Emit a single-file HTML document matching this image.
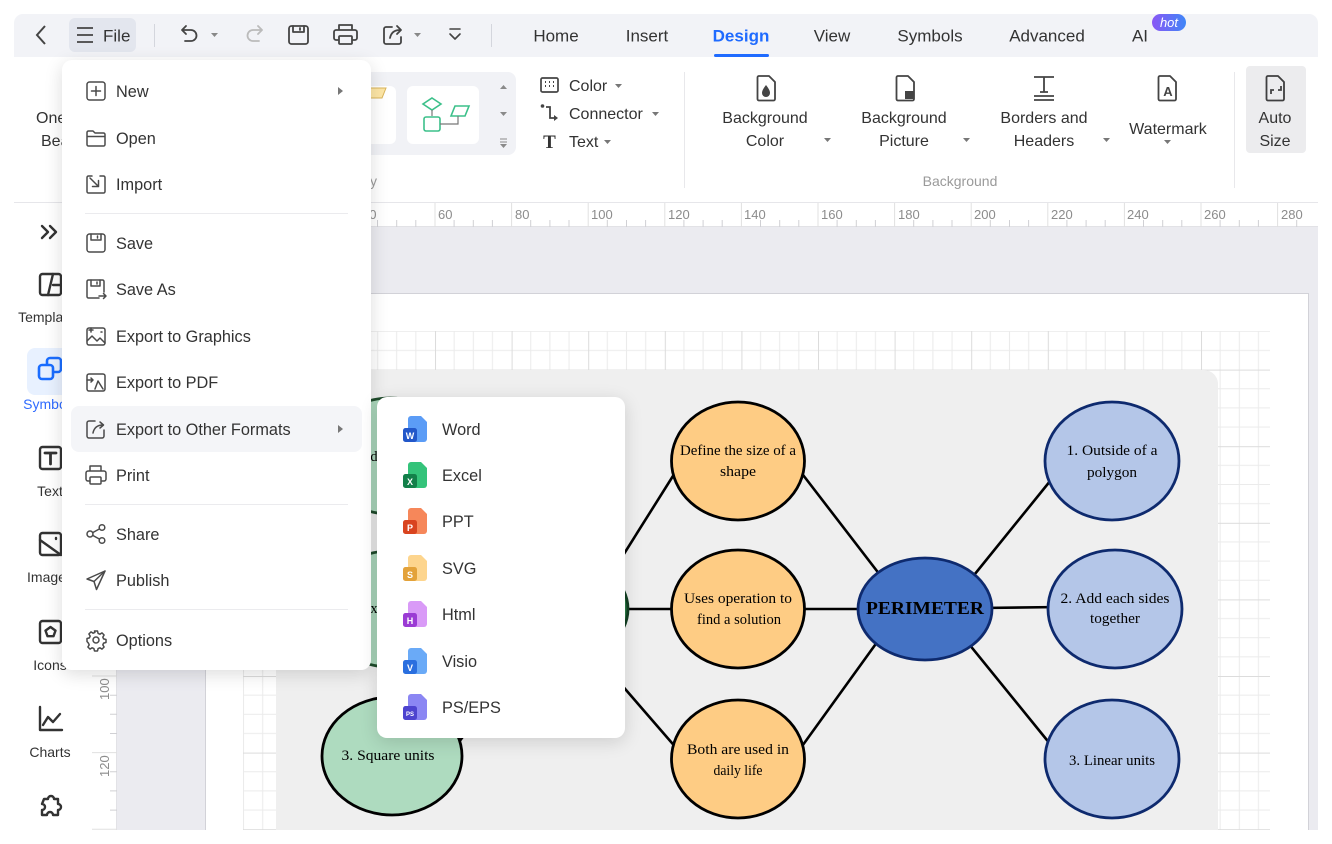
<!DOCTYPE html>
<html><head><meta charset="utf-8">
<style>
*{box-sizing:border-box;margin:0;padding:0}
body{width:1332px;height:844px;overflow:hidden;background:#fff;position:relative;font-family:"Liberation Sans",sans-serif;color:#333}
.a{position:absolute}
svg{display:block}
</style></head><body>

<!-- CANVAS -->
<svg class="a" style="left:0;top:0" width="1332" height="844">
<defs>
<pattern id="g" x="205.2" y="293" width="76.6" height="76.6" patternUnits="userSpaceOnUse">
<rect width="76.6" height="76.6" fill="#fff"/>
<path d="M19.15 0V76.6M38.3 0V76.6M57.45 0V76.6M0 19.15H76.6M0 38.3H76.6M0 57.45H76.6" stroke="#ebebeb" stroke-width="1"/>
<path d="M0.5 0V76.6M0 0.5H76.6" stroke="#dcdcdc" stroke-width="1"/>
</pattern>
</defs>
<rect x="117" y="227" width="1201" height="603" fill="#ebebf0"/>
<rect x="205" y="293" width="1104" height="537" fill="#fff"/>
<path d="M205.5 830V293.5H1308.5V830" fill="none" stroke="#d2d2d8"/>
<rect x="243" y="331" width="1027" height="499" fill="url(#g)"/>
<!-- rulers -->
<rect x="92" y="203" width="1226" height="24" fill="#fff"/>
<line x1="92" y1="226.5" x2="1318" y2="226.5" stroke="#e2e2e6"/>
<rect x="92" y="227" width="25" height="603" fill="#fff"/>
<line x1="116.5" y1="227" x2="116.5" y2="830" stroke="#e2e2e6"/>
<g stroke="#e0e0e0" stroke-width="1">
<path d="M128.6 203V227M205.2 203V227M281.8 203V227M358.4 203V227M435 203V227M511.6 203V227M588.2 203V227M664.8 203V227M741.4 203V227M818 203V227M894.6 203V227M971.2 203V227M1047.8 203V227M1124.4 203V227M1201 203V227M1277.6 203V227"/>
</g>
<g stroke="#d0d0d4" stroke-width="1">
<path d="M147.7 220V227M166.9 220V227M186 220V227M224.3 220V227M243.5 220V227M262.6 220V227M300.9 220V227M320.1 220V227M339.2 220V227M377.5 220V227M396.7 220V227M415.8 220V227M454.1 220V227M473.3 220V227M492.4 220V227M530.7 220V227M549.9 220V227M569 220V227M607.3 220V227M626.5 220V227M645.6 220V227M683.9 220V227M703.1 220V227M722.2 220V227M760.5 220V227M779.7 220V227M798.8 220V227M837.1 220V227M856.3 220V227M875.4 220V227M913.7 220V227M932.9 220V227M952 220V227M990.3 220V227M1009.5 220V227M1028.6 220V227M1066.9 220V227M1086.1 220V227M1105.2 220V227M1143.5 220V227M1162.7 220V227M1181.8 220V227M1220.1 220V227M1239.3 220V227M1258.4 220V227M1296.7 220V227"/>
<path d="M92 676H117M92 752.6H117M92 829.2H117" stroke="#e0e0e0"/>
<path d="M110 695.2H117M110 714.3H117M110 733.5H117M110 771.8H117M110 790.9H117M110 810.1H117"/>
</g>
<g font-family="Liberation Sans, sans-serif" font-size="13" fill="#8c8c8c">
<text x="362" y="219">40</text>
<text x="438" y="219">60</text>
<text x="515" y="219">80</text>
<text x="591" y="219">100</text>
<text x="668" y="219">120</text>
<text x="744" y="219">140</text>
<text x="821" y="219">160</text>
<text x="898" y="219">180</text>
<text x="974" y="219">200</text>
<text x="1051" y="219">220</text>
<text x="1127" y="219">240</text>
<text x="1204" y="219">260</text>
<text x="1281" y="219">280</text>
<text transform="translate(109,700) rotate(-90)">100</text>
<text transform="translate(109,777) rotate(-90)">120</text>
</g>

<!-- DIAGRAM -->
<rect x="276" y="370" width="942" height="480" rx="14" fill="#efefef"/>
<g stroke="#000" stroke-width="2.6" stroke-linecap="round" fill="none">
<line x1="800" y1="471" x2="890" y2="588"/>
<line x1="800" y1="609" x2="870" y2="609"/>
<line x1="800" y1="749" x2="888" y2="627"/>
<line x1="962" y1="590" x2="1055" y2="475"/>
<line x1="980" y1="608" x2="1060" y2="607"/>
<line x1="960" y1="633" x2="1055" y2="750"/>
<line x1="678" y1="468" x2="600" y2="592"/>
<line x1="600" y1="609" x2="678" y2="609"/>
<line x1="678" y1="750" x2="600" y2="660"/>
<line x1="440" y1="768" x2="530" y2="645"/>
</g>
<g stroke-width="2.8">
<ellipse cx="390" cy="456" rx="68" ry="58" fill="#aedbbf" stroke="#1f4d2c"/>
<ellipse cx="390" cy="609" rx="68" ry="58" fill="#aedbbf" stroke="#1f4d2c"/>
<ellipse cx="562" cy="609" rx="66" ry="52" fill="#2b7a46" stroke="#123f22"/>
<ellipse cx="392" cy="756" rx="70" ry="59" fill="#aedbbf" stroke="#000"/>
<ellipse cx="738" cy="461" rx="66.5" ry="59" fill="#fecc84" stroke="#000"/>
<ellipse cx="738" cy="609" rx="66.5" ry="59" fill="#fecc84" stroke="#000"/>
<ellipse cx="738" cy="759" rx="66.5" ry="59" fill="#fecc84" stroke="#000"/>
<ellipse cx="925" cy="609" rx="67" ry="51" fill="#4472c4" stroke="#0e2a6e"/>
<ellipse cx="1112" cy="461" rx="67" ry="59" fill="#b4c6e8" stroke="#0e2a6e"/>
<ellipse cx="1115" cy="609" rx="67" ry="59" fill="#b4c6e8" stroke="#0e2a6e"/>
<ellipse cx="1112" cy="759" rx="67" ry="59" fill="#b4c6e8" stroke="#0e2a6e"/>
</g>
<g font-family="Liberation Serif, serif" font-size="14.5" fill="#000" text-anchor="middle" lengthAdjust="spacingAndGlyphs">
<text x="374" y="461">d</text>
<text x="374" y="613">x</text>
<text x="388" y="760" textLength="93" lengthAdjust="spacingAndGlyphs">3. Square units</text>
<text x="738" y="455" textLength="116" lengthAdjust="spacingAndGlyphs">Define the size of a</text>
<text x="738" y="476" textLength="36" lengthAdjust="spacingAndGlyphs">shape</text>
<text x="738" y="603" textLength="108" lengthAdjust="spacingAndGlyphs">Uses operation to</text>
<text x="739" y="624" textLength="84" lengthAdjust="spacingAndGlyphs">find a solution</text>
<text x="738" y="754" textLength="102" lengthAdjust="spacingAndGlyphs">Both are used in</text>
<text x="738" y="775" textLength="49" lengthAdjust="spacingAndGlyphs">daily life</text>
<text x="925" y="614" font-size="17.5" font-weight="bold" textLength="118" lengthAdjust="spacingAndGlyphs">PERIMETER</text>
<text x="1112" y="455" textLength="91" lengthAdjust="spacingAndGlyphs">1. Outside of a</text>
<text x="1112" y="477" textLength="50" lengthAdjust="spacingAndGlyphs">polygon</text>
<text x="1115" y="603" textLength="109" lengthAdjust="spacingAndGlyphs">2. Add each sides</text>
<text x="1115" y="623" textLength="50" lengthAdjust="spacingAndGlyphs">together</text>
<text x="1112" y="765" textLength="86" lengthAdjust="spacingAndGlyphs">3. Linear units</text>
</g>
<rect x="0" y="830" width="1332" height="14" fill="#fff"/>
</svg>

<!-- UI CHROME -->
<svg class="a" style="left:0;top:0" width="1332" height="844">
<defs>
<linearGradient id="hot" x1="0" y1="0" x2="1" y2="0"><stop offset="0" stop-color="#8a57f5"/><stop offset="1" stop-color="#3f86f7"/></linearGradient>
</defs>
<!-- toolbar band -->
<rect x="14" y="14" width="1304" height="43" rx="9" fill="#f2f3f7"/>
<rect x="14" y="40" width="1304" height="17" fill="#f2f3f7"/>
<path d="M45 26L37 35L45 44" fill="none" stroke="#444" stroke-width="2"/>
<rect x="69" y="18" width="67" height="34" rx="6" fill="#e3e6ee"/>
<path d="M77 28H93M77 35H93M77 42H93" stroke="#444" stroke-width="1.7"/>
<text x="103" y="41.5" font-size="17" fill="#333">File</text>
<line x1="154.5" y1="24" x2="154.5" y2="47" stroke="#d4d6dd"/>
<g fill="none" stroke="#444" stroke-width="1.8" stroke-linecap="round" stroke-linejoin="round">
<path d="M186 26l-4 4 4 4M182 30h9a5.5 5.5 0 0 1 0 11h-6"/>
<path d="M258 26l4 4-4 4M262 30h-9a5.5 5.5 0 0 0 0 11h6" stroke="#bbb"/>
<rect x="289" y="26" width="19" height="18" rx="2.5"/>
<path d="M293 26v6h11v-6M300 28v2"/>
<path d="M339 30v-5h13v5M338 40h-2a2 2 0 0 1-2-2v-6a2 2 0 0 1 2-2h19a2 2 0 0 1 2 2v6a2 2 0 0 1-2 2h-2"/>
<rect x="339" y="36" width="13" height="8" rx="1"/>
<path d="M392 27h-6a2 2 0 0 0-2 2v13a2 2 0 0 0 2 2h13a2 2 0 0 0 2-2v-5"/>
<path d="M390 38c1-5 4-8 10-8M397 26l4 4-4 4"/>
<path d="M450 29h10M450 34l5 5 5-5" stroke-width="1.6"/>
</g>
<g fill="#888">
<path d="M211 33h7l-3.5 4z"/>
<path d="M414 33h7l-3.5 4z"/>
</g>
<line x1="491.5" y1="24" x2="491.5" y2="47" stroke="#d4d6dd"/>
<g font-size="17" fill="#333" text-anchor="middle">
<text x="556" y="41.5">Home</text>
<text x="647" y="41.5">Insert</text>
<text x="741" y="41.5" fill="#1f6bff" font-weight="bold">Design</text>
<text x="832" y="41.5">View</text>
<text x="930" y="41.5">Symbols</text>
<text x="1047" y="41.5">Advanced</text>
<text x="1140" y="41.5">AI</text>
</g>
<rect x="714" y="54" width="55" height="3" rx="1.5" fill="#1f6bff"/>
<rect x="1152" y="14" width="34" height="17" rx="8.5" fill="url(#hot)"/>
<text x="1169" y="27" font-size="13" font-style="italic" fill="#fff" text-anchor="middle">hot</text>

<!-- ribbon -->
<line x1="14" y1="202.5" x2="1318" y2="202.5" stroke="#e6e6ea"/>
<text x="36" y="123" font-size="16" fill="#333">OneClick</text>
<text x="41" y="146" font-size="16" fill="#333">Beautify</text>
<rect x="340" y="72" width="176" height="83" rx="8" fill="#f1f2f6"/>
<rect x="340" y="86" width="56" height="58" rx="6" fill="#fff"/>
<path d="M368 88h18l-4 10h-14z" fill="#fde6a6" stroke="#d9b45a" stroke-width="1"/>
<rect x="407" y="86" width="72" height="58" rx="6" fill="#fff"/>
<g fill="none" stroke="#3cc08a" stroke-width="1.6">
<path d="M432 98l9 6-9 6-9-6z"/>
<rect x="424" y="117" width="16" height="14" rx="2"/>
<path d="M455 106h14l-4 10h-14z"/>
</g>
<path d="M432 110v6M440 124h18v-8" fill="none" stroke="#777" stroke-width="1.2"/>
<g fill="#8a8a8a">
<path d="M500 89h7l-3.5-4z"/>
<path d="M500 112h7l-3.5 4z"/>
<path d="M500 139h7M500 142h7" stroke="#8a8a8a" stroke-width="1"/>
<path d="M500 144h7l-3.5 4z"/>
</g>
<text x="377" y="186" font-size="14" fill="#9a9a9a" text-anchor="end">Beautify</text>
<!-- Color connector text -->
<g fill="none" stroke="#444" stroke-width="1.7">
<rect x="541" y="78" width="17" height="14" rx="1.5"/>
<path d="M545 82h1M549 82h1M553 82h1M545 86h1M549 86h1M553 86h1" stroke-width="2"/>
<path d="M546 107h4v11h5" stroke-width="1.8"/>
</g>
<circle cx="542.5" cy="106" r="1.8" fill="#444"/>
<path d="M554 115l4 3-4 3z" fill="#444"/>
<text x="549.5" y="148" font-family="Liberation Serif, serif" font-weight="bold" font-size="19" fill="#333" text-anchor="middle">T</text>
<g font-size="16" fill="#333">
<text x="569" y="91">Color</text>
<text x="569" y="119">Connector</text>
<text x="569" y="147">Text</text>
</g>
<g fill="#777">
<path d="M615 84h7l-3.5 4z"/>
<path d="M652 112h7l-3.5 4z"/>
<path d="M604 140h7l-3.5 4z"/>
<path d="M824 138h7l-3.5 4z"/>
<path d="M963 138h7l-3.5 4z"/>
<path d="M1103 138h7l-3.5 4z"/>
<path d="M1164 140h7l-3.5 4z"/>
</g>
<line x1="684.5" y1="72" x2="684.5" y2="188" stroke="#e8e8eb"/>
<line x1="1234.5" y1="72" x2="1234.5" y2="188" stroke="#e8e8eb"/>
<g fill="none" stroke="#444" stroke-width="1.8" stroke-linejoin="round">
<path d="M759 76h10l6 6v17a1.5 1.5 0 0 1-1.5 1.5h-14.5a1.5 1.5 0 0 1-1.5-1.5v-21.5a1.5 1.5 0 0 1 1.5-1.5z"/>
<path d="M898 76h10l6 6v17a1.5 1.5 0 0 1-1.5 1.5h-14.5a1.5 1.5 0 0 1-1.5-1.5v-21.5a1.5 1.5 0 0 1 1.5-1.5z"/>
<path d="M1160 76h10l6 6v17a1.5 1.5 0 0 1-1.5 1.5h-14.5a1.5 1.5 0 0 1-1.5-1.5v-21.5a1.5 1.5 0 0 1 1.5-1.5z"/>
<path d="M1268 76h10l6 6v17a1.5 1.5 0 0 1-1.5 1.5h-14.5a1.5 1.5 0 0 1-1.5-1.5v-21.5a1.5 1.5 0 0 1 1.5-1.5z"/>
<path d="M1034 77h20M1044 77v15M1040 92h8M1034 96h20M1034 100h20"/>
</g>
<rect x="1246" y="66" width="60" height="87" rx="4" fill="#ececee" style="mix-blend-mode:multiply"/>
<path d="M766 85c-3 4-4 6-4 8a4 4 0 0 0 8 0c0-2-1-4-4-8z" fill="#444"/>
<rect x="905" y="91" width="9" height="8" fill="#444"/>
<text x="1168" y="96" font-size="13" font-weight="bold" fill="#444" text-anchor="middle">A</text>
<path d="M1271 94v-4h3M1281 86v4h-3" fill="none" stroke="#444" stroke-width="1.8"/>
<g font-size="16" fill="#333" text-anchor="middle">
<text x="765" y="123">Background</text>
<text x="765" y="146">Color</text>
<text x="904" y="123">Background</text>
<text x="904" y="146">Picture</text>
<text x="1044" y="123">Borders and</text>
<text x="1044" y="146">Headers</text>
<text x="1168" y="134">Watermark</text>
<text x="1275" y="123">Auto</text>
<text x="1275" y="146">Size</text>
</g>
<text x="960" y="186" font-size="14" fill="#9a9a9a" text-anchor="middle">Background</text>

<!-- sidebar -->
<rect x="27" y="348" width="46" height="47" rx="8" fill="#e8f1ff"/>
<g fill="none" stroke="#333" stroke-width="2.4" stroke-linejoin="round" stroke-linecap="round">
<path d="M42 226l6 6-6 6M50 226l6 6-6 6"/>
<rect x="40" y="274" width="21" height="21" rx="2.5"/>
<path d="M48 295l5-21M53 285h8"/>
<rect x="40" y="447" width="21" height="22" rx="2.5"/>
<path d="M45 453h11M50.5 453v11" stroke-width="2.8"/>
<rect x="40" y="533" width="21" height="22" rx="2.5"/>
<path d="M40 540l21 15M56 538v1"/>
<rect x="40" y="621" width="21" height="22" rx="2.5"/>
<path d="M50.5 627l5 3.6-2 5.6h-6l-2-5.6z"/>
<path d="M40 707v23h22M43 725l5-8 5 5 7-8"/>
<path d="M44 799h4a3 3 0 0 1 6 0h4v5a3 3 0 0 1 0 6v5h-5a3 3 0 0 0-6 0h-5v-5a3 3 0 0 0 0-6z"/>
</g>
<g fill="none" stroke="#1a6dff" stroke-width="2.6" stroke-linejoin="round">
<rect x="39" y="365" width="14" height="14" rx="3"/>
<path d="M47 365v-4a3 3 0 0 1 3-3h8a3 3 0 0 1 3 3v8a3 3 0 0 1-3 3h-5"/>
</g>
<g font-size="14" fill="#333" text-anchor="middle">
<text x="50" y="322">Templates</text>
<text x="50" y="409" fill="#2f6bff">Symbols</text>
<text x="50" y="496">Text</text>
<text x="50" y="582">Images</text>
<text x="50" y="670">Icons</text>
<text x="50" y="757">Charts</text>
</g>
</svg>

<!-- MENUS -->
<div class="a" style="left:62px;top:60px;width:309px;height:610px;background:#fff;border-radius:10px;box-shadow:0 4px 18px rgba(0,0,0,.14)"></div>
<div class="a" style="left:377px;top:397px;width:248px;height:341px;background:#fff;border-radius:10px;box-shadow:0 4px 18px rgba(0,0,0,.14)"></div>

<svg class="a" style="left:0;top:0" width="1332" height="844">
<rect x="71" y="406" width="291" height="46" rx="8" fill="#f4f5f8"/>
<g stroke="#ebebee"><line x1="85" y1="213.5" x2="348" y2="213.5"/><line x1="85" y1="504.5" x2="348" y2="504.5"/><line x1="85" y1="609.5" x2="348" y2="609.5"/></g>
<g fill="#777"><path d="M338 87v8l5-4z"/><path d="M338 425v8l5-4z"/></g>
<g fill="none" stroke="#4a4a4a" stroke-width="1.5" stroke-linejoin="round" stroke-linecap="round">
<g transform="translate(86,81)"><rect x="1" y="1" width="18" height="18" rx="2.5"/><path d="M10 5.5v9M5.5 10h9"/></g>
<g transform="translate(86,128)"><path d="M1 4.5A1.5 1.5 0 0 1 2.5 3H7l2 2h8.5A1.5 1.5 0 0 1 19 6.5v10a1.5 1.5 0 0 1-1.5 1.5h-15A1.5 1.5 0 0 1 1 16.5zM1 8.5h18"/></g>
<g transform="translate(86,174)"><path d="M6 2H2.5A1.5 1.5 0 0 0 1 3.5v14A1.5 1.5 0 0 0 2.5 19h15a1.5 1.5 0 0 0 1.5-1.5v-14A1.5 1.5 0 0 0 17.5 2H14"/><path d="M4 4l8 8M12.5 6.5v6h-6"/></g>
<g transform="translate(86,233)"><rect x="1" y="1" width="18" height="18" rx="2.5"/><path d="M5 1v6h10V1M11.5 3v2"/></g>
<g transform="translate(86,279)"><path d="M13 19H2.5A1.5 1.5 0 0 1 1 17.5v-15A1.5 1.5 0 0 1 2.5 1h14A1.5 1.5 0 0 1 18 2.5V13"/><path d="M5 1v6h9V1M11 3v2M13 17h7M17.5 14.5l2.5 2.5-2.5 2.5"/></g>
<g transform="translate(86,326)"><rect x="1" y="2" width="18" height="17" rx="2"/><path d="M1 15l5-5 5 5 3-3 5 5M5 2v4M3 4h4M15 6h1"/></g>
<g transform="translate(86,372)"><rect x="1" y="2" width="18" height="17" rx="2"/><path d="M1 8h6l-2-2M7 8l-2 2M9 17l3-8 5 8"/></g>
<g transform="translate(86,419)"><path d="M9 2H3a2 2 0 0 0-2 2v13a2 2 0 0 0 2 2h13a2 2 0 0 0 2-2v-6"/><path d="M7 14c1-5 4-8 10-8M14 3l3.5 3-3.5 3"/></g>
<g transform="translate(85,465)"><path d="M5 6V1h11v5M5 16H3a2 2 0 0 1-2-2V8a2 2 0 0 1 2-2h16a2 2 0 0 1 2 2v6a2 2 0 0 1-2 2h-2"/><rect x="5" y="12" width="11" height="7" rx="1"/></g>
<g transform="translate(86,524)"><circle cx="4" cy="10" r="3"/><circle cx="16" cy="3.5" r="2.8"/><circle cx="16" cy="16.5" r="2.8"/><path d="M6.7 8.6l6.8-3.7M6.7 11.4l6.8 3.7"/></g>
<g transform="translate(86,570)"><path d="M19 1L1 9l7 2.5 2.5 8z"/><path d="M8 11.5L19 1"/></g>
<g transform="translate(86,630)"><circle cx="10" cy="10" r="3"/><path d="M8.5 1h3l.6 2.4 1.8.8 2.1-1.3 2.1 2.1-1.3 2.1.8 1.8 2.4.6v3l-2.4.6-.8 1.8 1.3 2.1-2.1 2.1-2.1-1.3-1.8.8-.6 2.4h-3l-.6-2.4-1.8-.8-2.1 1.3-2.1-2.1 1.3-2.1-.8-1.8L1 11.5v-3l2.4-.6.8-1.8-1.3-2.1 2.1-2.1 2.1 1.3 1.8-.8z"/></g>
</g>
<g font-size="16.3" fill="#333">
<text x="116" y="97">New</text>
<text x="116" y="144">Open</text>
<text x="116" y="190">Import</text>
<text x="116" y="249">Save</text>
<text x="116" y="295">Save As</text>
<text x="116" y="342">Export to Graphics</text>
<text x="116" y="388">Export to PDF</text>
<text x="116" y="435">Export to Other Formats</text>
<text x="116" y="481">Print</text>
<text x="116" y="540">Share</text>
<text x="116" y="586">Publish</text>
<text x="116" y="646">Options</text>
</g>

<!-- submenu icons -->
<g font-family="Liberation Sans, sans-serif" font-weight="bold" fill="#fff" text-anchor="middle">
<g transform="translate(402,415)"><path d="M9 1h10l6 6v17a3 3 0 0 1-3 3H9a3 3 0 0 1-3-3V4a3 3 0 0 1 3-3z" fill="#5b9cf6"/><rect x="1" y="13" width="14" height="14" rx="2.5" fill="#2257c9"/><text x="8" y="24" font-size="9">W</text></g>
<g transform="translate(402,461)"><path d="M9 1h10l6 6v17a3 3 0 0 1-3 3H9a3 3 0 0 1-3-3V4a3 3 0 0 1 3-3z" fill="#34c37a"/><rect x="1" y="13" width="14" height="14" rx="2.5" fill="#13804a"/><text x="8" y="24" font-size="9">X</text></g>
<g transform="translate(402,507)"><path d="M9 1h10l6 6v17a3 3 0 0 1-3 3H9a3 3 0 0 1-3-3V4a3 3 0 0 1 3-3z" fill="#f6875a"/><rect x="1" y="13" width="14" height="14" rx="2.5" fill="#d9441f"/><text x="8" y="24" font-size="9">P</text></g>
<g transform="translate(402,554)"><path d="M9 1h10l6 6v17a3 3 0 0 1-3 3H9a3 3 0 0 1-3-3V4a3 3 0 0 1 3-3z" fill="#fdd58e"/><rect x="1" y="13" width="14" height="14" rx="2.5" fill="#e3a23a"/><text x="8" y="24" font-size="9">S</text></g>
<g transform="translate(402,600)"><path d="M9 1h10l6 6v17a3 3 0 0 1-3 3H9a3 3 0 0 1-3-3V4a3 3 0 0 1 3-3z" fill="#d99af7"/><rect x="1" y="13" width="14" height="14" rx="2.5" fill="#9b3bd4"/><text x="8" y="24" font-size="9">H</text></g>
<g transform="translate(402,647)"><path d="M9 1h10l6 6v17a3 3 0 0 1-3 3H9a3 3 0 0 1-3-3V4a3 3 0 0 1 3-3z" fill="#6aaaf7"/><rect x="1" y="13" width="14" height="14" rx="2.5" fill="#2a6fdf"/><text x="8" y="24" font-size="9">V</text></g>
<g transform="translate(402,693)"><path d="M9 1h10l6 6v17a3 3 0 0 1-3 3H9a3 3 0 0 1-3-3V4a3 3 0 0 1 3-3z" fill="#8b86f3"/><rect x="1" y="13" width="14" height="14" rx="2.5" fill="#4d43cf"/><text x="8" y="23" font-size="6">PS</text></g>
</g>
<g font-size="16.3" fill="#333">
<text x="442" y="435">Word</text>
<text x="442" y="481">Excel</text>
<text x="442" y="527">PPT</text>
<text x="442" y="574">SVG</text>
<text x="442" y="620">Html</text>
<text x="442" y="667">Visio</text>
<text x="442" y="713">PS/EPS</text>
</g>
</svg>
</body></html>
